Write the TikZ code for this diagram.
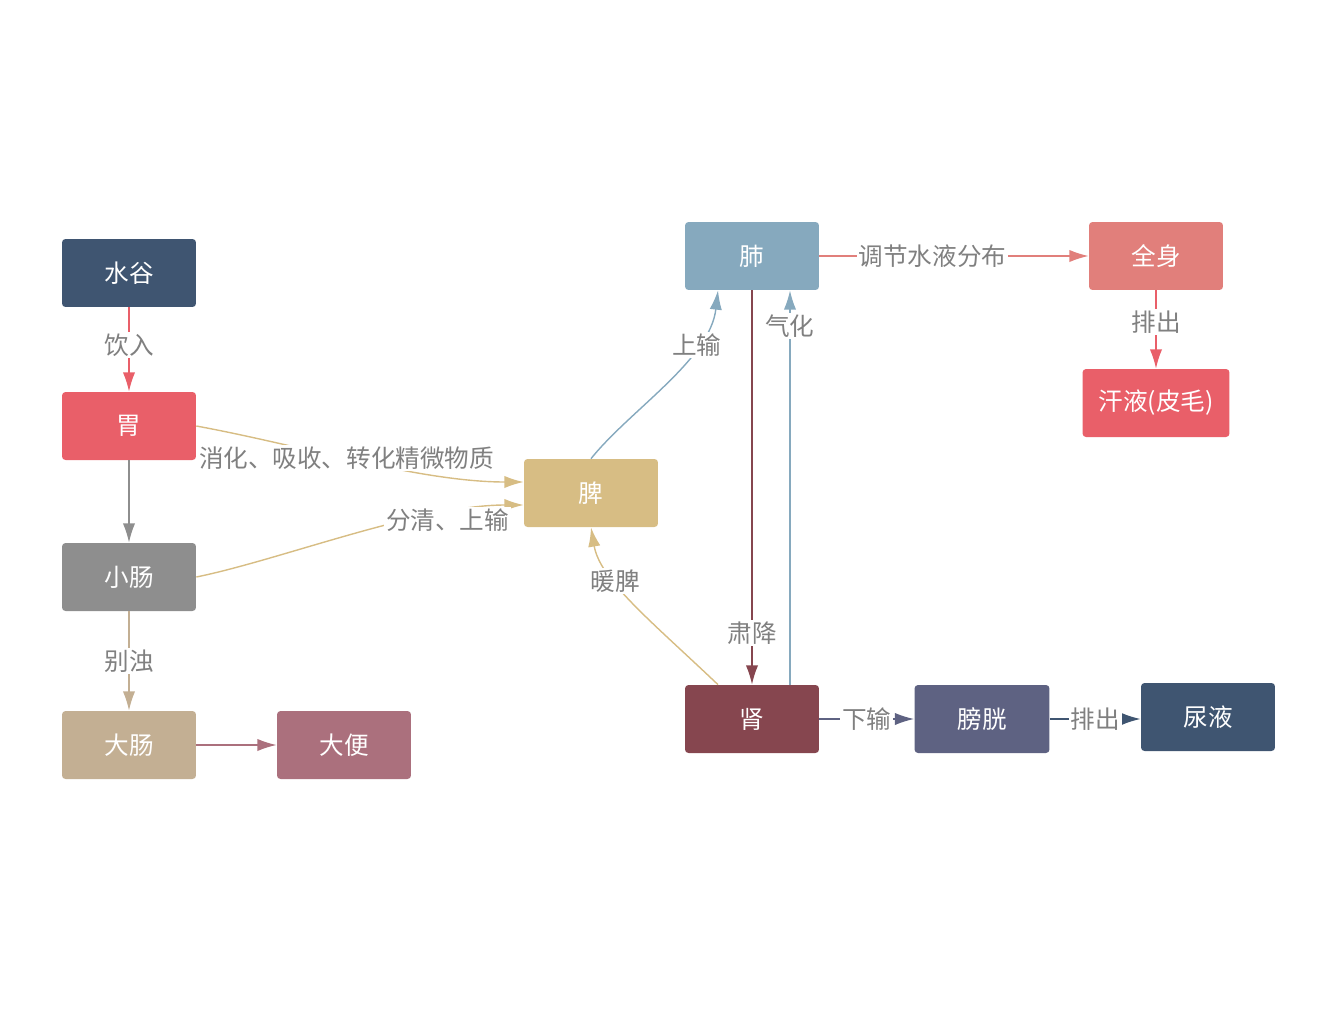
\documentclass[tikz,border=0pt]{standalone}
\usepackage{fontspec}
\setmainfont{Noto Sans CJK SC}
\usetikzlibrary{arrows.meta}
\definecolor{cdb}{HTML}{3F5571}
\definecolor{cred}{HTML}{E95F69}
\definecolor{cgray}{HTML}{8E8E8E}
\definecolor{ctan}{HTML}{C3AF93}
\definecolor{cmauve}{HTML}{AB707D}
\definecolor{cgold}{HTML}{D7BD84}
\definecolor{cblue}{HTML}{86A9BE}
\definecolor{csal}{HTML}{E17F7B}
\definecolor{cwine}{HTML}{86464F}
\definecolor{cpur}{HTML}{5E6282}
\definecolor{ctxt}{HTML}{808080}
\begin{document}
\begin{tikzpicture}[x=0.02cm,y=-0.02cm,
 box/.style={rounded corners=2pt,minimum width=2.68cm,minimum height=1.36cm,text=white,font=\fontsize{14}{16}\selectfont,inner sep=0pt},
 lab/.style={fill=white,text=ctxt,font=\fontsize{14}{16}\selectfont,inner sep=1pt},
 arr/.style={-{Latex[length=11pt,width=7pt]},line width=0.8pt}]
\useasboundingbox (0,0) rectangle (1336,1008);
\node[box,fill=cdb] (sg) at (129,273) {水谷};
\node[box,fill=cred] (wei) at (129,426) {胃};
\node[box,fill=cgray] (xc) at (129,577) {小肠};
\node[box,fill=ctan] (dc) at (129,745) {大肠};
\node[box,fill=cmauve] (db) at (344,745) {大便};
\node[box,fill=cgold] (pi) at (591,493) {脾};
\node[box,fill=cblue] (fei) at (752,256) {肺};
\node[box,fill=csal] (qs) at (1156,256) {全身};
\node[box,fill=cred,minimum width=2.94cm] (hy) at (1156,403) {汗液(皮毛)};
\node[box,fill=cwine] (shen) at (752,719) {肾};
\node[box,fill=cpur,minimum width=2.7cm] (pg) at (982,719) {膀胱};
\node[box,fill=cdb] (ny) at (1208,717) {尿液};
\draw[arr,cred] (sg) -- node[lab,pos=0.45]{饮入} (wei);
\draw[arr,cgray] (wei) -- (xc);
\draw[arr,ctan] (xc) -- node[lab]{别浊} (dc);
\draw[arr,cmauve] (dc) -- (db);
\draw[arr,cgold] (wei.east) .. controls (300,445) and (420,482) .. node[lab,pos=0.46]{消化、吸收、转化精微物质} ([yshift=0.22cm]pi.west);
\draw[arr,cgold] (xc.east) .. controls (280,560) and (420,505) .. node[lab,pos=0.77,yshift=-0.15cm]{分清、上输} ([yshift=-0.24cm]pi.west);
\draw[arr,cblue] (pi.north) .. controls (630,410) and (710,360) .. node[lab,pos=0.72]{上输} ([xshift=-0.68cm]fei.south);
\draw[arr,cwine] (fei.south) -- node[lab,pos=0.87]{肃降} (shen.north);
\draw[arr,cblue] ([xshift=0.76cm]shen.north) -- node[lab,pos=0.91]{气化} ([xshift=0.76cm]fei.south);
\draw[arr,cgold] ([xshift=-0.68cm]shen.north) .. controls (650,620) and (600,580) .. node[lab,pos=0.64]{暖脾} (pi.south);
\draw[arr,csal] (fei) -- node[lab,pos=0.42]{调节水液分布} (qs);
\draw[arr,cred] (qs) -- node[lab,pos=0.4]{排出} (hy);
\draw[arr,cpur] (shen) -- node[lab]{下输} (pg);
\draw[arr,cdb] (pg.east) -- node[lab]{排出} (pg.east -| ny.west);
\end{tikzpicture}
\end{document}
